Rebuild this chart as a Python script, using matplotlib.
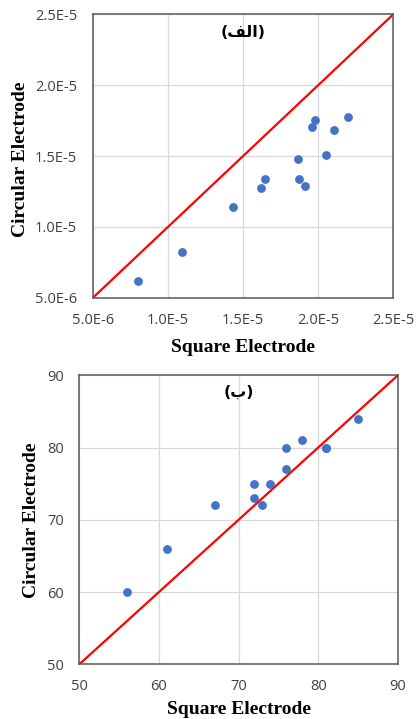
import matplotlib.pyplot as plt

# panel (a) - values in units of 1e-6
square_a = [8.0, 10.96, 14.31, 16.2, 16.49, 18.64, 18.71, 19.09, 19.58, 19.78, 20.53, 21.04, 22.02]
circular_a = [6.18, 8.22, 11.4, 12.72, 13.35, 14.76, 13.35, 12.91, 17.07, 17.54, 15.05, 16.81, 17.78]
ticks_a = [5e-6, 1e-5, 1.5e-5, 2e-5, 2.5e-5]
tick_labels_a = ["5.0E-6", "1.0E-5", "1.5E-5", "2.0E-5", "2.5E-5"]

# panel (b)
square_b = [56, 61, 67, 72, 72, 73, 74, 76, 76, 78, 81, 81, 85]
circular_b = [60, 66, 72, 75, 73, 72, 75, 77, 80, 81, 80, 80, 84]
ticks_b = [50, 60, 70, 80, 90]

# (الف) written in visual order with presentation forms, (ب)
title_a = "(\uFED2\uFEDF\uFE8D)"
title_b = "(\u0628)"

blue = "#4472c4"
red = "#ff0000"
spine_col = "#595959"
grid_col = "#d9d9d9"

fig = plt.figure(figsize=(4.17, 7.19), dpi=100)
ax1 = fig.add_axes([0.223, 0.586, 0.720, 0.394])
ax2 = fig.add_axes([0.190, 0.076, 0.764, 0.402])


def style(ax, ticks, labels, ypad, xpad):
    ax.set_xlim(ticks[0], ticks[-1])
    ax.set_ylim(ticks[0], ticks[-1])
    ax.set_xticks(ticks)
    ax.set_yticks(ticks)
    ax.set_xticklabels(labels)
    ax.set_yticklabels(labels)
    ax.grid(True, color=grid_col, linewidth=0.9)
    ax.set_axisbelow(True)
    for s in ax.spines.values():
        s.set_color(spine_col)
        s.set_linewidth(1.1)
    ax.tick_params(axis="both", length=0, colors="#404040", labelsize=10.5)
    ax.tick_params(axis="y", pad=ypad)
    ax.tick_params(axis="x", pad=xpad)
    for lab in ax.get_xticklabels() + ax.get_yticklabels():
        lab.set_fontfamily("Open Sans")
    ax.plot([ticks[0], ticks[-1]], [ticks[0], ticks[-1]], color=red, linewidth=1.6, zorder=2)
    ax.set_xlabel("Square Electrode", fontfamily="Liberation Serif", fontweight="bold", fontsize=14)
    ax.set_ylabel("Circular Electrode", fontfamily="Liberation Serif", fontweight="bold", fontsize=14)


style(ax1, ticks_a, tick_labels_a, 11.5, 11)
ax1.scatter([v * 1e-6 for v in square_a], [v * 1e-6 for v in circular_a], s=40, color=blue, zorder=3, linewidths=0)
ax1.xaxis.set_label_coords(0.5, -0.145)
ax1.yaxis.set_label_coords(-0.213, 0.49)
ax1.text(0.5, 0.935, title_a, transform=ax1.transAxes, ha="center", va="center",
         fontsize=11.5, fontweight="bold", fontfamily="DejaVu Sans")

style(ax2, ticks_b, [str(t) for t in ticks_b], 11, 10.5)
ax2.scatter(square_b, circular_b, s=40, color=blue, zorder=3, linewidths=0)
ax2.xaxis.set_label_coords(0.5, -0.128)
ax2.yaxis.set_label_coords(-0.122, 0.5)
ax2.text(0.5, 0.94, title_b, transform=ax2.transAxes, ha="center", va="center",
         fontsize=11.5, fontweight="bold", fontfamily="DejaVu Sans")

fig.savefig("out.png", dpi=100)
